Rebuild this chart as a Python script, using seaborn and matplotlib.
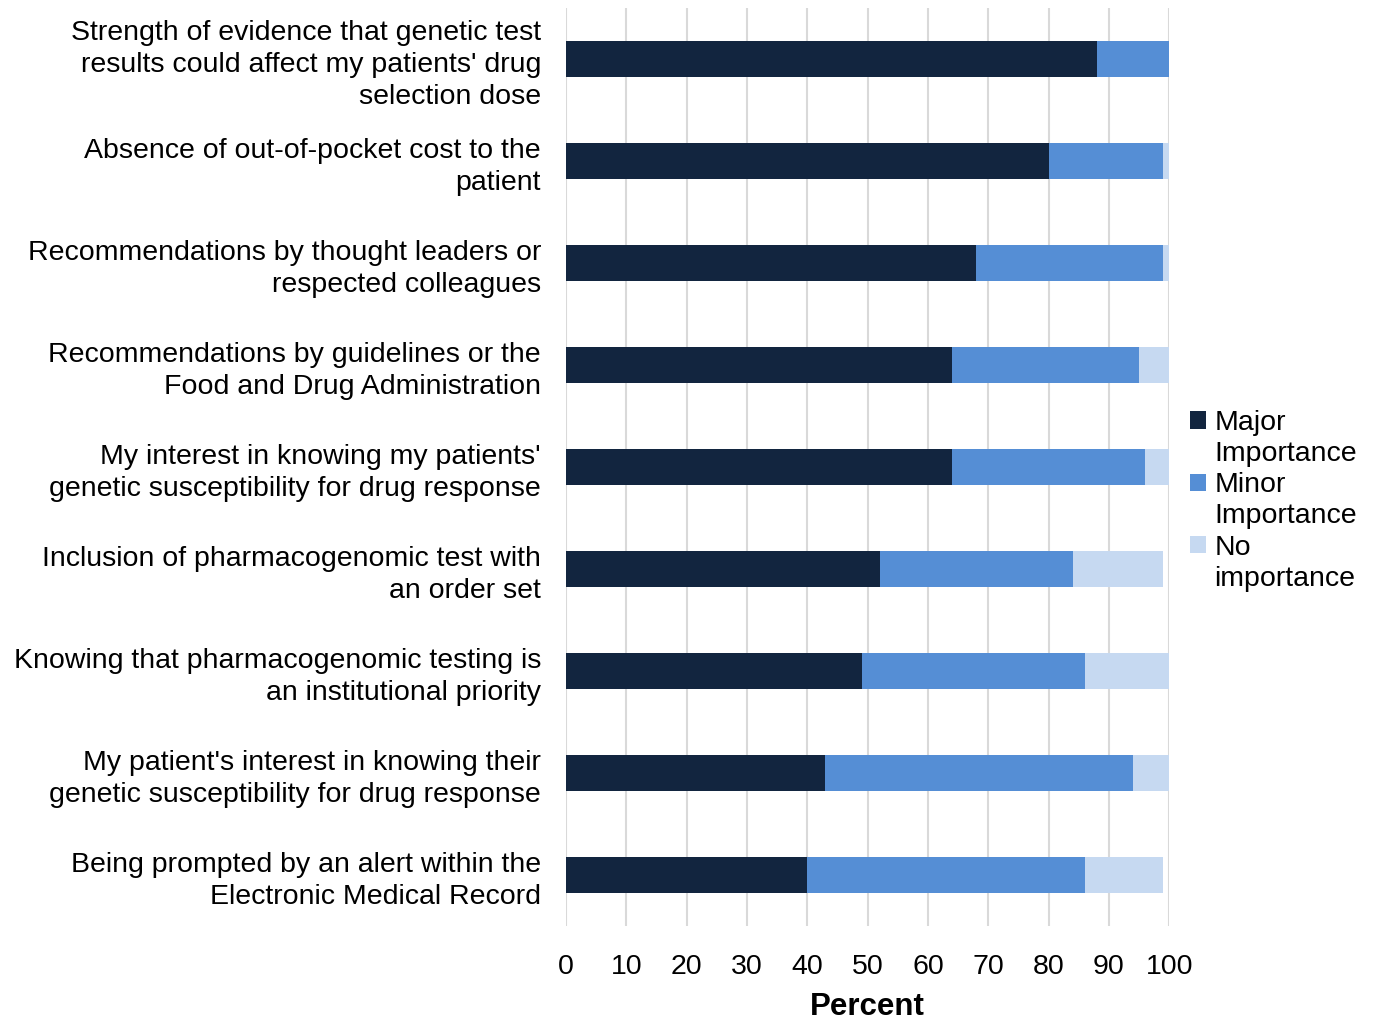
import matplotlib
matplotlib.use("Agg")
import matplotlib.pyplot as plt
import seaborn as sns
import numpy as np
import pandas as pd
from matplotlib.patches import Patch

categories = [
    "Strength of evidence that genetic test\nresults could affect my patients' drug\nselection dose",
    "Absence of out-of-pocket cost to the\npatient",
    "Recommendations by thought leaders or\nrespected colleagues",
    "Recommendations by guidelines or the\nFood and Drug Administration",
    "My interest in knowing my patients'\ngenetic susceptibility for drug response",
    "Inclusion of pharmacogenomic test with\nan order set",
    "Knowing that pharmacogenomic testing is\nan institutional priority",
    "My patient's interest in knowing their\ngenetic susceptibility for drug response",
    "Being prompted by an alert within the\nElectronic Medical Record",
]
major = [88, 80, 68, 64, 64, 52, 49, 43, 40]
minor = [12, 19, 31, 31, 32, 32, 37, 51, 46]
none_ = [0, 1, 1, 5, 4, 15, 14, 6, 13]
series_names = [("Major", "Importance"), ("Minor", "Importance"), ("No", "importance")]
colors = ["#12253F", "#558ED5", "#C6D9F1"]

sns.set_theme(style="white")
plt.rcParams["font.family"] = ["Liberation Sans", "DejaVu Sans"]
plt.rcParams["text.color"] = "black"
plt.rcParams["xtick.color"] = "black"
plt.rcParams["ytick.color"] = "black"
plt.rcParams["axes.labelcolor"] = "black"

df = pd.DataFrame({"cat": categories, "major": major, "minor": minor, "none": none_})
df["c1"] = df["major"]
df["c2"] = df["major"] + df["minor"]
df["c3"] = df["c2"] + df["none"]

fig = plt.figure(figsize=(13.74, 10.23), dpi=100)
ax = fig.add_axes([0.412, 0.095, 0.439, 0.897])

w = 0.35
for col, c in zip(["c3", "c2", "c1"], colors[::-1]):
    sns.barplot(data=df, x=col, y="cat", color=c, orient="h", width=w,
                saturation=1, ax=ax, order=categories, linewidth=0, edgecolor="none")

ax.set_xlim(0, 100)
ax.set_ylim(8.5, -0.5)
ax.set_xticks(np.arange(0, 101, 10))
ax.xaxis.grid(True, color="#D9D9D9", linewidth=1.5)
ax.yaxis.grid(False)
ax.set_axisbelow(True)
for s in ax.spines.values():
    s.set_visible(False)
ax.tick_params(axis="y", length=0, pad=18, labelsize=20.5)
ax.tick_params(axis="x", length=0, pad=20, labelsize=20.5)
for t in ax.get_yticklabels():
    t.set_linespacing(1.3)
ax.set_ylabel("")
ax.set_xlabel("Percent", fontsize=22.5, fontweight="bold", labelpad=9)

handles, labels = [], []
for (a, b), c in zip(series_names, colors):
    handles.append(Patch(facecolor=c, edgecolor="none"))
    labels.append(a)
    handles.append(Patch(facecolor="none", edgecolor="none"))
    labels.append(b)
ax.legend(handles, labels, loc="upper left", bbox_to_anchor=(1.035, 0.562),
          frameon=False, fontsize=20.5, labelspacing=0.18, handlelength=0.55,
          handleheight=0.55, handletextpad=0.3, borderaxespad=0, borderpad=0)

fig.savefig("out.png", dpi=100)
